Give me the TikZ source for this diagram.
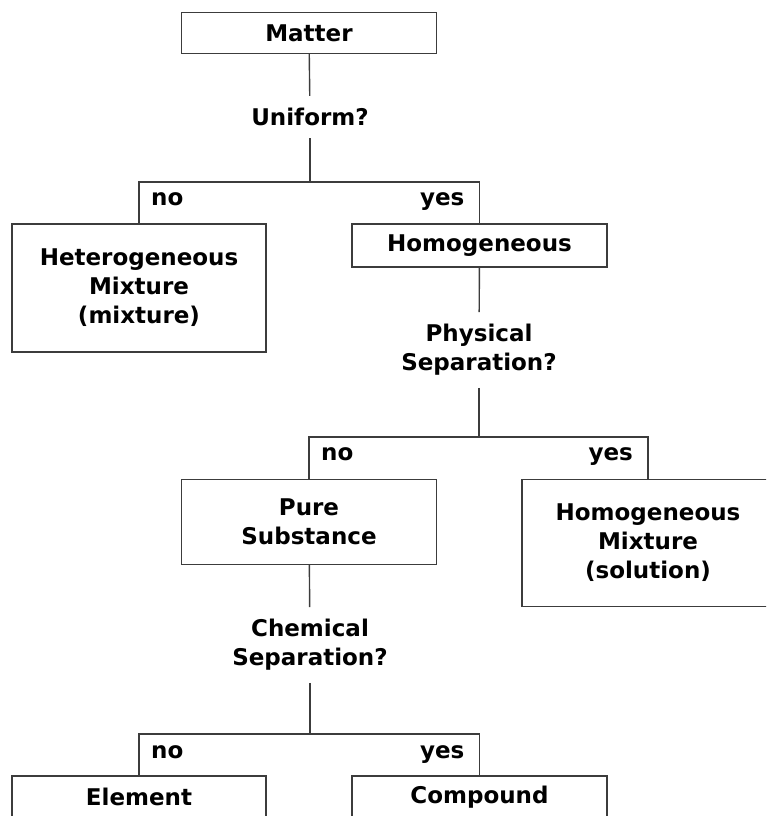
\documentclass[tikz,border=0pt]{standalone}
\usepackage{fontspec}
\setmainfont{DejaVu Sans}
\newcommand{\chartfont}{\fontsize{23}{29}\selectfont\bfseries}
\tikzset{
  box/.style={draw=linegray, line width=1.4pt, rectangle, minimum width=255pt,
              align=center, font=\chartfont, inner sep=0pt},
  question/.style={align=center, font=\chartfont, inner xsep=2pt, inner ysep=12pt},
  answer/.style={font=\chartfont, inner sep=0pt},
  branch/.style={draw=linegray, line width=1.4pt}
}
\definecolor{linegray}{HTML}{3C3C3C}
\begin{document}
\begin{tikzpicture}[x=1pt, y=-1pt]
\useasboundingbox (0,0) rectangle (766,816);
\clip (0,0) rectangle (766,816);

% Matter classification

\node[box, minimum height=41pt] (matter) at (309,33) {Matter};
\node[question] (uniform) at (310,117) {Uniform?};
\coordinate (fork1) at (310,182);
\node[box, minimum width=254pt, minimum height=128pt] (hetero) at (139,288) {Heterogeneous\\Mixture\\(mixture)};
\node[box, minimum height=43pt] (homog) at (479.5,245.5) {Homogeneous};

\node[question] (physical) at (479,350) {Physical\\Separation?};
\coordinate (fork2) at (479,437);
\node[box, minimum height=85pt] (pure) at (309,522) {Pure\\Substance};
\node[box, minimum width=252pt, minimum height=127pt] (solution) at (648,543) {Homogeneous\\Mixture\\(solution)};

\node[question] (chemical) at (310,645) {Chemical\\Separation?};
\coordinate (fork3) at (310,734);
\node[box, minimum width=254pt, minimum height=42pt] (element) at (139,797) {Element};
\node[box, minimum height=42pt] (compound) at (479.5,797) {Compound};

% connectors
\draw[branch] (matter) -- (uniform);
\draw[branch] (uniform) -- (fork1);
\draw[branch] (hetero.north) -- (hetero.north |- fork1) -- (homog.north |- fork1) -- (homog.north);

\draw[branch] (homog) -- (physical);
\draw[branch] (physical) -- (fork2);
\draw[branch] (pure.north) -- (pure.north |- fork2) -- (solution.north |- fork2) -- (solution.north);
\draw[branch] (pure) -- (chemical);
\draw[branch] (chemical) -- (fork3);
\draw[branch] (element.north) -- (element.north |- fork3) -- (compound.north |- fork3) -- (compound.north);

% answers
\node[answer, anchor=base west] (no1) at ([xshift=12pt, yshift=18pt]hetero.north) {no};
\node[answer, anchor=base east] (yes1) at ([xshift=-15pt, yshift=18pt]homog.north) {yes};
\node[answer, anchor=base west] (no2) at ([xshift=12pt, yshift=18pt]pure.north) {no};
\node[answer, anchor=base east] (yes2) at ([xshift=-15pt, yshift=18pt]solution.north) {yes};
\node[answer, anchor=base west] (no3) at ([xshift=12pt, yshift=17pt]element.north) {no};
\node[answer, anchor=base east] (yes3) at ([xshift=-15pt, yshift=17pt]compound.north) {yes};

\end{tikzpicture}
\end{document}
